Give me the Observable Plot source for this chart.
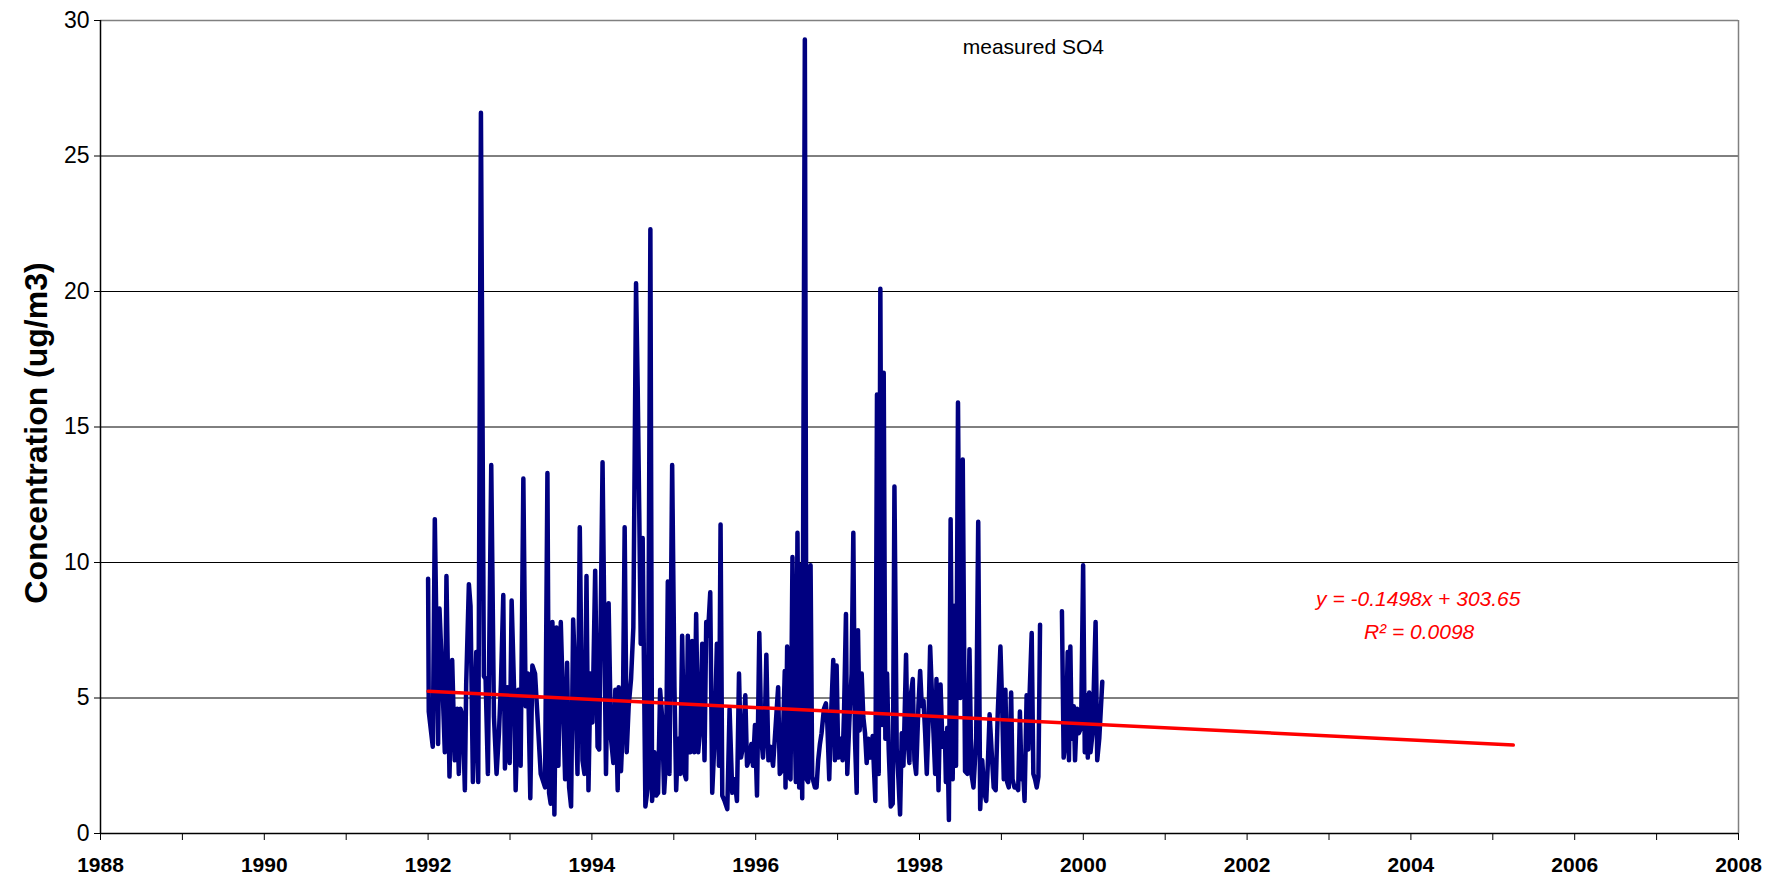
<!DOCTYPE html>
<html>
<head>
<meta charset="utf-8">
<script src="https://cdn.jsdelivr.net/npm/d3@7"></script>
<script src="https://cdn.jsdelivr.net/npm/@observablehq/plot@0.6"></script>
<style>
  html, body { margin: 0; padding: 0; background: #fff; }
  #chart svg { display: block; }
</style>
</head>
<body>
<div id="chart"></div>
<script>
// ---- data (decimal year, measured SO4 ug/m3); null = gap in record ----
const dates = [
1992.000,1992.008,1992.057,1992.082,1992.122,1992.139,1992.171,1992.204,1992.224,1992.261,
1992.294,1992.326,1992.355,1992.375,1992.396,1992.424,1992.449,1992.465,1992.498,1992.518,
1992.547,1992.588,1992.612,1992.645,1992.681,1992.702,1992.730,1992.771,1992.804,1992.836,
1992.865,1992.889,1992.918,1992.938,1992.967,1992.996,1993.020,1993.049,1993.069,1993.102,
1993.130,1993.163,1993.191,1993.220,1993.248,1993.273,1993.306,1993.375,1993.428,1993.457,
1993.477,1993.497,1993.518,1993.542,1993.567,1993.591,1993.620,1993.648,1993.673,1993.697,
1993.722,1993.746,1993.771,1993.795,1993.824,1993.852,1993.885,1993.909,1993.934,1993.958,
1993.983,1994.007,1994.040,1994.069,1994.089,1994.130,1994.172,1994.204,1994.233,1994.262,
1994.286,1994.315,1994.327,1994.355,1994.376,1994.400,1994.425,1994.449,1994.478,1994.506,
1994.539,1994.559,1994.580,1994.596,1994.620,1994.653,1994.682,1994.714,1994.735,1994.763,
1994.784,1994.808,1994.833,1994.857,1994.882,1994.906,1994.927,1994.947,1994.980,1995.008,
1995.029,1995.053,1995.078,1995.102,1995.131,1995.151,1995.171,1995.200,1995.224,1995.249,
1995.273,1995.298,1995.322,1995.347,1995.375,1995.396,1995.416,1995.445,1995.469,1995.498,
1995.526,1995.551,1995.571,1995.592,1995.620,1995.653,1995.681,1995.714,1995.743,1995.771,
1995.796,1995.820,1995.845,1995.873,1995.894,1995.918,1995.947,1995.967,1995.991,1996.016,
1996.044,1996.069,1996.089,1996.110,1996.130,1996.155,1996.179,1996.212,1996.274,1996.294,
1996.315,1996.335,1996.355,1996.364,1996.384,1996.404,1996.425,1996.449,1996.466,1996.490,
1996.510,1996.531,1996.547,1996.568,1996.600,1996.621,1996.641,1996.670,1996.690,1996.723,
1996.743,1996.763,1996.784,1996.804,1996.833,1996.857,1996.874,1996.898,1996.918,1996.947,
1996.967,1996.988,1997.008,1997.037,1997.061,1997.078,1997.102,1997.118,1997.143,1997.171,
1997.192,1997.212,1997.233,1997.249,1997.269,1997.294,1997.314,1997.335,1997.355,1997.375,
1997.396,1997.428,1997.445,1997.461,1997.481,1997.502,1997.522,1997.543,1997.563,1997.583,
1997.604,1997.624,1997.649,1997.673,1997.694,1997.722,1997.743,1997.763,1997.783,1997.804,
1997.836,1997.853,1997.877,1997.894,1997.918,1997.938,1997.959,1997.987,1998.008,1998.028,
1998.049,1998.069,1998.089,1998.110,1998.130,1998.151,1998.171,1998.191,1998.207,1998.232,
1998.257,1998.281,1998.310,1998.322,1998.339,1998.359,1998.380,1998.405,1998.429,1998.446,
1998.470,1998.497,1998.528,1998.556,1998.585,1998.610,1998.634,1998.659,1998.692,1998.717,
1998.741,1998.766,1998.791,1998.815,1998.836,1998.856,1998.885,1998.906,1998.930,1998.955,
1998.988,1999.008,1999.029,1999.049,1999.070,1999.090,1999.119,1999.136,1999.160,1999.185,
1999.205,1999.226,1999.246,1999.267,1999.283,1999.308,1999.329,1999.345,1999.370,1999.390,
1999.411,1999.431,1999.452,1999.472,1999.600,1999.739,1999.760,1999.789,1999.809,1999.825,
1999.842,1999.858,1999.883,1999.899,1999.924,1999.945,1999.973,1999.998,2000.018,2000.039,
2000.055,2000.072,2000.088,2000.113,2000.150,2000.170,2000.195,2000.232
];
const so4 = [
9.4,4.5,3.2,11.6,3.3,8.3,5.9,3.0,9.5,2.1,
6.4,2.7,4.6,2.2,4.6,4.3,1.6,5.5,9.2,8.4,
1.9,6.7,1.9,26.6,5.8,5.7,2.2,13.6,4.3,2.2,
3.7,5.5,8.8,2.4,5.4,2.6,8.6,5.4,1.6,5.3,
2.5,13.1,4.7,5.9,1.3,6.2,5.9,2.2,1.7,13.3,
1.5,1.1,7.8,0.7,7.6,2.5,7.8,4.8,2.0,6.3,
1.7,1.0,7.9,5.9,2.2,11.3,2.7,2.2,9.5,1.6,
5.9,4.1,9.7,3.2,3.1,13.7,2.2,8.5,3.5,2.6,
5.3,1.6,5.4,2.3,3.8,11.3,3.0,4.7,5.7,7.6,
20.3,16.5,11.4,7.0,10.9,1.0,1.7,22.3,1.2,3.0,
1.4,1.5,5.3,4.3,1.5,2.8,9.3,2.2,13.6,5.4,
1.6,3.5,2.2,7.3,2.2,2.0,7.3,3.0,7.1,3.0,
8.1,3.0,3.9,7.0,2.7,7.8,7.3,8.9,1.5,3.5,
7.0,2.5,11.4,1.4,1.2,0.9,4.6,1.5,2.0,1.2,
5.9,2.8,3.2,5.1,2.5,2.7,3.3,2.5,4.0,1.4,
7.4,3.5,2.8,3.8,6.6,2.7,3.2,2.5,5.4,2.2,
2.3,3.8,6.0,1.7,6.9,2.1,2.0,10.2,5.9,1.9,
11.1,1.7,9.9,1.3,29.3,2.0,1.9,9.9,2.1,1.7,
1.7,2.7,3.3,3.7,4.6,4.8,4.1,2.0,4.2,6.4,
2.7,6.2,2.8,3.5,2.7,4.4,8.1,2.2,4.1,5.9,
11.1,3.5,1.5,7.5,3.8,5.9,4.3,3.7,2.6,3.5,
2.8,3.6,2.3,1.2,16.2,2.2,20.1,4.0,17.0,3.5,
5.9,3.1,1.0,1.1,12.8,3.1,2.0,0.7,3.7,2.5,
6.6,3.5,2.6,5.1,5.7,2.7,2.2,4.7,6.0,4.7,
4.9,3.7,2.2,4.1,6.9,5.2,3.7,2.2,5.7,1.6,
5.5,3.2,3.7,1.9,3.9,0.5,11.6,2.0,8.4,2.5,
15.9,5.0,13.8,2.3,2.2,6.8,2.2,1.7,3.5,11.5,
0.9,2.7,1.5,1.2,2.7,4.4,2.8,1.7,1.6,4.4,
6.9,4.9,2.0,5.3,1.9,1.7,5.2,2.0,1.7,1.7,
1.6,4.5,2.0,2.2,1.2,5.1,3.1,5.2,7.4,2.2,
2.0,1.7,2.1,7.7,null,8.2,2.8,3.5,6.7,2.7,
6.9,3.5,4.7,2.7,4.6,3.7,3.9,9.9,3.0,5.1,
2.8,5.2,3.0,3.7,7.8,2.7,3.5,5.6
];

// Linear trendline as reported on the chart
const trendSlope = -0.1498;
const trendIntercept = 303.65;
const trendYears = [1992.0, 2005.25];

// Axis ticks
const xTickYears = [1988,1989,1990,1991,1992,1993,1994,1995,1996,1997,1998,1999,2000,2001,2002,2003,2004,2005,2006,2007,2008];
const xLabelYears = [1988,1990,1992,1994,1996,1998,2000,2002,2004,2006,2008];
const yTicks = [0,5,10,15,20,25,30];

const measured = dates.map((d, i) => ({year: d, value: so4[i]}));
const trend = trendYears.map(t => ({year: t, value: trendSlope * t + trendIntercept}));

const font = "'Liberation Sans', Arial, Helvetica, sans-serif";

const chart = Plot.plot({
  width: 1768,
  height: 878,
  marginLeft: 100,
  marginRight: 30,
  marginTop: 20,
  marginBottom: 45,
  style: {fontFamily: font, background: "#fff", color: "#000"},
  x: {domain: [1988, 2008], axis: null},
  y: {domain: [0, 30], axis: null},
  marks: [
    Plot.ruleY(yTicks.filter(d => d > 0 && d < 30), {stroke: "#000", strokeWidth: 1}),
    Plot.ruleY([30], {stroke: "#808080", strokeWidth: 1.5}),
    Plot.ruleX([2008], {stroke: "#808080", strokeWidth: 1.5}),
    Plot.line(measured, {x: "year", y: "value", stroke: "#000080", strokeWidth: 4.5, strokeLinejoin: "round", strokeLinecap: "round"}),
    Plot.line(trend, {x: "year", y: "value", stroke: "#ff0000", strokeWidth: 3.5}),
    Plot.ruleX([1988], {stroke: "#000", strokeWidth: 1.5}),
    Plot.ruleY([0], {stroke: "#000", strokeWidth: 1.5}),
    Plot.axisY(yTicks, {tickSize: 6, tickPadding: 5, fontSize: 23, tickFormat: d => String(d), label: null}),
    Plot.axisX(xTickYears, {tickSize: 7, tickPadding: 17, fontSize: 21, fontWeight: "bold",
      tickFormat: d => xLabelYears.includes(d) ? String(d) : "", label: null}),
    Plot.text(["Concentration (ug/m3)"], {frameAnchor: "left", textAnchor: "middle", dx: -64, dy: 6, rotate: -90,
      fontSize: 32, fontWeight: "bold"}),
    Plot.text(["measured SO4"], {x: 1999.39, y: 28.75, lineAnchor: "bottom", fontSize: 21}),
    Plot.text(["y = -0.1498x + 303.65"], {x: 2004.09, y: 8.41, lineAnchor: "bottom", fontSize: 21,
      fontStyle: "italic", fill: "#ff0000"}),
    Plot.text(["R\u00B2 = 0.0098"], {x: 2004.1, y: 7.19, lineAnchor: "bottom", fontSize: 21,
      fontStyle: "italic", fill: "#ff0000"})
  ]
});

document.getElementById("chart").appendChild(chart);
</script>
</body>
</html>
